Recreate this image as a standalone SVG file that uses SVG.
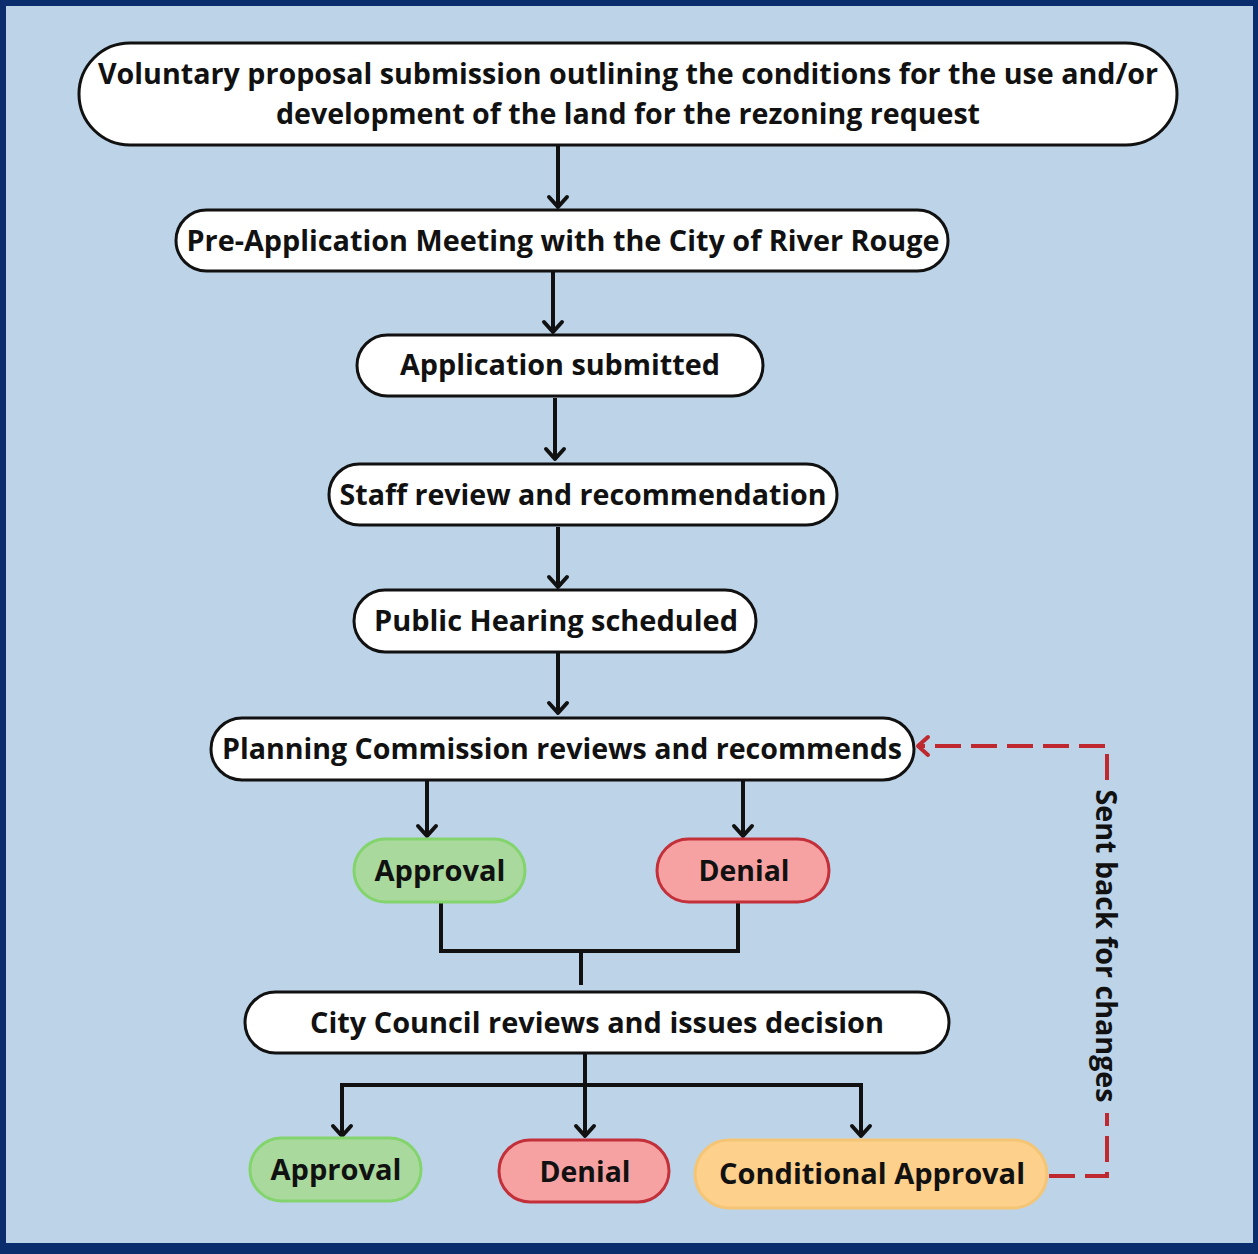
<svg xmlns="http://www.w3.org/2000/svg" width="1258" height="1254" viewBox="0 0 1258 1254">
  <style>
    .box { fill: #ffffff; stroke: #111111; stroke-width: 3; }
    .ok { fill: #a9d99c; stroke: #84d46e; stroke-width: 3; }
    .no { fill: #f6a2a2; stroke: #c3303a; stroke-width: 3; }
    .cond { fill: #fdd08b; stroke: #f5c576; stroke-width: 3; }
    .lbl { font-family: "Open Sans", "Liberation Sans", sans-serif; font-weight: 700; font-size: 28px; fill: #111111; text-anchor: middle; }
    .wire { fill: none; stroke: #111111; stroke-width: 4; }
    .back { fill: none; stroke: #c0282f; stroke-width: 4; stroke-dasharray: 26 10; }
  </style>
  <defs>
    <marker id="chev" viewBox="-14 -12 18 24" markerUnits="userSpaceOnUse" markerWidth="18" markerHeight="24" refX="0" refY="0" orient="auto" overflow="visible">
      <path d="M -10 -9 L 0 0 L -10 9" fill="none" stroke="#111111" stroke-width="4" stroke-linecap="round" stroke-linejoin="round"/>
    </marker>
    <marker id="chevRed" viewBox="-14 -12 18 24" markerUnits="userSpaceOnUse" markerWidth="18" markerHeight="24" refX="0" refY="0" orient="auto" overflow="visible">
      <path d="M -10 -9 L 0 0 L -10 9" fill="none" stroke="#c0282f" stroke-width="4" stroke-linecap="round" stroke-linejoin="round"/>
    </marker>
  </defs>

  <!-- frame -->
  <rect x="0" y="0" width="1258" height="1254" fill="#0b2d6d"/>
  <rect x="6" y="6" width="1247" height="1237" fill="#bcd3e8"/>

  <!-- connectors -->
  <g id="connectors">
    <line class="wire" x1="558" y1="146" x2="558" y2="207" marker-end="url(#chev)"/>
    <line class="wire" x1="553" y1="272" x2="553" y2="332" marker-end="url(#chev)"/>
    <line class="wire" x1="555" y1="398" x2="555" y2="459" marker-end="url(#chev)"/>
    <line class="wire" x1="558" y1="527" x2="558" y2="587" marker-end="url(#chev)"/>
    <line class="wire" x1="558" y1="653" x2="558" y2="713" marker-end="url(#chev)"/>
    <line class="wire" x1="427" y1="781" x2="427" y2="836" marker-end="url(#chev)"/>
    <line class="wire" x1="743" y1="781" x2="743" y2="836" marker-end="url(#chev)"/>
    <polyline class="wire" points="441,903 441,951 738,951 738,903"/>
    <line class="wire" x1="581" y1="951" x2="581" y2="985"/>
    <line class="wire" x1="585" y1="1054" x2="585" y2="1136" marker-end="url(#chev)"/>
    <polyline class="wire" points="342,1136 342,1085 861,1085 861,1136" marker-end="url(#chev)"/>
    <line class="wire" x1="342" y1="1085" x2="342" y2="1136" marker-end="url(#chev)"/>
    <!-- return path for conditional approvals -->
    <polyline class="back" points="1049,1176 1107,1176 1107,1113"/>
    <polyline class="back" points="1107,780 1107,746 918,746" marker-end="url(#chevRed)"/>
    <text class="lbl" x="0" y="0" transform="translate(1096 946) rotate(90)" textLength="313" lengthAdjust="spacingAndGlyphs">Sent back for changes</text>
  </g>

  <g id="proposal">
    <rect class="box" x="79" y="43" width="1098" height="102" rx="51"/>
    <text class="lbl" x="628" y="84" textLength="1060" lengthAdjust="spacingAndGlyphs">Voluntary proposal submission outlining the conditions for the use and/or</text>
    <text class="lbl" x="628" y="124" textLength="704" lengthAdjust="spacingAndGlyphs">development of the land for the rezoning request</text>
  </g>
  <g id="pre-application">
    <rect class="box" x="176" y="210" width="772" height="61" rx="30.5"/>
    <text class="lbl" x="563" y="251" textLength="753" lengthAdjust="spacingAndGlyphs">Pre-Application Meeting with the City of River Rouge</text>
  </g>
  <g id="application">
    <rect class="box" x="357" y="335" width="406" height="61" rx="30.5"/>
    <text class="lbl" x="560" y="375" textLength="320" lengthAdjust="spacingAndGlyphs">Application submitted</text>
  </g>
  <g id="staff-review">
    <rect class="box" x="329" y="464" width="508" height="61" rx="30.5"/>
    <text class="lbl" x="583" y="505" textLength="487" lengthAdjust="spacingAndGlyphs">Staff review and recommendation</text>
  </g>
  <g id="public-hearing">
    <rect class="box" x="354" y="590" width="402" height="62" rx="31"/>
    <text class="lbl" x="556" y="631" textLength="364" lengthAdjust="spacingAndGlyphs">Public Hearing scheduled</text>
  </g>
  <g id="planning-commission">
    <rect class="box" x="211" y="718" width="703" height="62" rx="31"/>
    <text class="lbl" x="562" y="759" textLength="680" lengthAdjust="spacingAndGlyphs">Planning Commission reviews and recommends</text>
  </g>
  <g id="pc-approval">
    <rect class="ok" x="354" y="839" width="171" height="63" rx="31.5"/>
    <text class="lbl" x="440" y="881" textLength="131" lengthAdjust="spacingAndGlyphs">Approval</text>
  </g>
  <g id="pc-denial">
    <rect class="no" x="657" y="839" width="172" height="63" rx="31.5"/>
    <text class="lbl" x="744" y="881" textLength="91" lengthAdjust="spacingAndGlyphs">Denial</text>
  </g>
  <g id="city-council">
    <rect class="box" x="245" y="992" width="704" height="61" rx="30.5"/>
    <text class="lbl" x="597" y="1033" textLength="574" lengthAdjust="spacingAndGlyphs">City Council reviews and issues decision</text>
  </g>
  <g id="cc-approval">
    <rect class="ok" x="250" y="1138" width="171" height="63" rx="31.5"/>
    <text class="lbl" x="336" y="1180" textLength="131" lengthAdjust="spacingAndGlyphs">Approval</text>
  </g>
  <g id="cc-denial">
    <rect class="no" x="499" y="1140" width="170" height="62" rx="31"/>
    <text class="lbl" x="585" y="1182" textLength="91" lengthAdjust="spacingAndGlyphs">Denial</text>
  </g>
  <g id="cc-conditional">
    <rect class="cond" x="695" y="1140" width="352" height="68" rx="34"/>
    <text class="lbl" x="872" y="1184" textLength="306" lengthAdjust="spacingAndGlyphs">Conditional Approval</text>
  </g>
</svg>
